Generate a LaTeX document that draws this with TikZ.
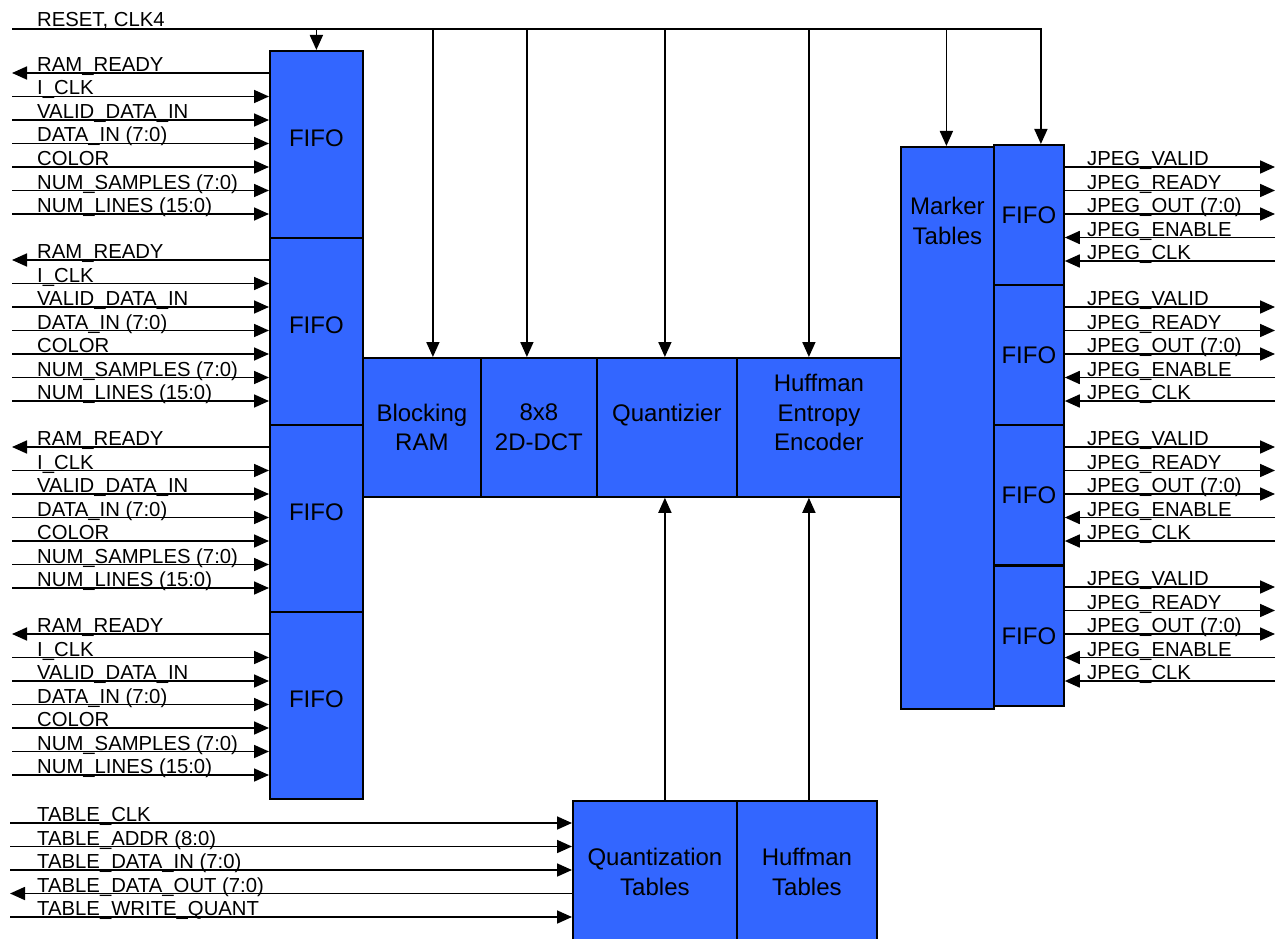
\documentclass[tikz,border=0pt]{standalone}
\usepackage{fontspec}
\setmainfont{Liberation Sans}
\usetikzlibrary{positioning,arrows.meta}
\definecolor{azulbloque}{RGB}{51,102,255}

\begin{document}
\begin{tikzpicture}[x=1pt, y=-1pt,
  bloque/.style={draw=black, line width=1.8pt, fill=azulbloque, anchor=north west,
                 inner sep=0pt, align=center, font=\fontsize{24}{29.5}\selectfont},
  senal/.style={line width=1.7pt, -{Triangle[length=15pt,width=13pt]}},
  etiqueta/.style={anchor=base west, inner sep=0pt, font=\fontsize{20.3}{22}\selectfont},
]
\useasboundingbox (0,0) rectangle (1282,939);
% ---- Bloques -------------------------------------------------------------
\foreach \i/\y in {1/50,2/237,3/424,4/611} {
  \node[bloque, minimum width=93pt, minimum height=187pt, text depth=12pt]
    (fifo\i) at (269,\y) {FIFO};
}
\node[bloque, minimum width=118pt, minimum height=139pt] (bram) at (362,357)
  {Blocking\\RAM};
\node[bloque, minimum width=116pt, minimum height=139pt] (dct) at (480,357)
  {8x8\\2D-DCT};
\node[bloque, minimum width=140pt, minimum height=139pt] (quant) at (596,357)
  {Quantizier\\\mbox{}};
\node[bloque, minimum width=164pt, minimum height=139pt] (huffenc) at (736,357)
  {Huffman\\Entropy\\Encoder\\\mbox{}};
\node[bloque, minimum width=93pt, minimum height=562pt,
      label={[anchor=north, align=center, font=\fontsize{24}{29.5}\selectfont,
              yshift=-48pt]north:Marker\\Tables}] (marker) at (900,146) {};
\foreach \i/\y in {1/144,2/284,3/424,4/565} {
  \node[bloque, minimum width=70pt, minimum height=140pt] (fifor\i) at (993,\y) {FIFO};
}
\node[bloque, minimum width=164pt, minimum height=142pt] (quanttab) at (572,800)
  {Quantization\\Tables};
\node[bloque, minimum width=140pt, minimum height=142pt] (hufftab) at (736,800)
  {Huffman\\Tables};
% ---- Reset / reloj -------------------------------------------------------
\coordinate (rst) at (12,29);
\node[etiqueta] (etqrst) at (37,27) {RESET, CLK4};
\draw[senal] (rst) -| ([xshift=12pt]fifor1.north);
\draw[senal] (fifo1.north |- rst) -- (fifo1.north);
\draw[senal] ([xshift=11pt]bram.north |- rst) -- ([xshift=11pt]bram.north);
\draw[senal] ([xshift=-12pt]dct.north |- rst) -- ([xshift=-12pt]dct.north);
\draw[senal] ([xshift=-2pt]quant.north |- rst) -- ([xshift=-2pt]quant.north);
\draw[senal] ([xshift=-10pt]huffenc.north |- rst) -- ([xshift=-10pt]huffenc.north);
\draw[senal] ([xshift=-1pt]marker.north |- rst) -- ([xshift=-1pt]marker.north);
% ---- Tablas hacia el cuantizador y el codificador ------------------------
\draw[senal] ([xshift=10pt]quanttab.north) -- ([xshift=10pt]quanttab.north |- quant.south);
\draw[senal] ([xshift=2pt]hufftab.north) -- ([xshift=2pt]hufftab.north |- huffenc.south);
% ---- Entradas de las FIFO ------------------------------------------------
\foreach \i in {1,...,4} {
  \foreach \txt [count=\j from 0] in {RAM\_READY, I\_CLK, VALID\_DATA\_IN,
      DATA\_IN (7:0), COLOR, NUM\_SAMPLES (7:0), NUM\_LINES (15:0)} {
    \pgfmathsetmacro\yy{73+187*(\i-1)+23.5*\j}
    \coordinate (izq\i\j) at (12,\yy);
    \node[etiqueta] (etq\i\j) at (37,\yy-1.5) {\txt};
    \ifnum\j=0
      \draw[senal] (izq\i\j -| fifo\i.west) -- (izq\i\j);
    \else
      \draw[senal] (izq\i\j) -- (izq\i\j -| fifo\i.west);
    \fi
  }
}
% ---- Salidas JPEG --------------------------------------------------------
\foreach \i in {1,...,4} {
  \foreach \txt [count=\j from 0] in {JPEG\_VALID, JPEG\_READY, JPEG\_OUT (7:0),
      JPEG\_ENABLE, JPEG\_CLK} {
    \pgfmathsetmacro\yy{167+140*(\i-1)+23.5*\j}
    \coordinate (der\i\j) at (1275,\yy);
    \node[etiqueta] (etqd\i\j) at (1087,\yy-1.5) {\txt};
    \ifnum\j<3
      \draw[senal] (der\i\j -| fifor\i.east) -- (der\i\j);
    \else
      \draw[senal] (der\i\j) -- (der\i\j -| fifor\i.east);
    \fi
  }
}
% ---- Acceso a tablas -----------------------------------------------------
\foreach \txt [count=\j from 0] in {TABLE\_CLK, TABLE\_ADDR (8:0),
    TABLE\_DATA\_IN (7:0), TABLE\_DATA\_OUT (7:0), TABLE\_WRITE\_QUANT} {
  \pgfmathsetmacro\yy{823+23.5*\j}
  \coordinate (tab\j) at (10,\yy);
  \node[etiqueta] (etqt\j) at (37,\yy-1.5) {\txt};
  \ifnum\j=3
    \draw[senal] (tab\j -| quanttab.west) -- (tab\j);
  \else
    \draw[senal] (tab\j) -- (tab\j -| quanttab.west);
  \fi
}
\end{tikzpicture}
\end{document}
